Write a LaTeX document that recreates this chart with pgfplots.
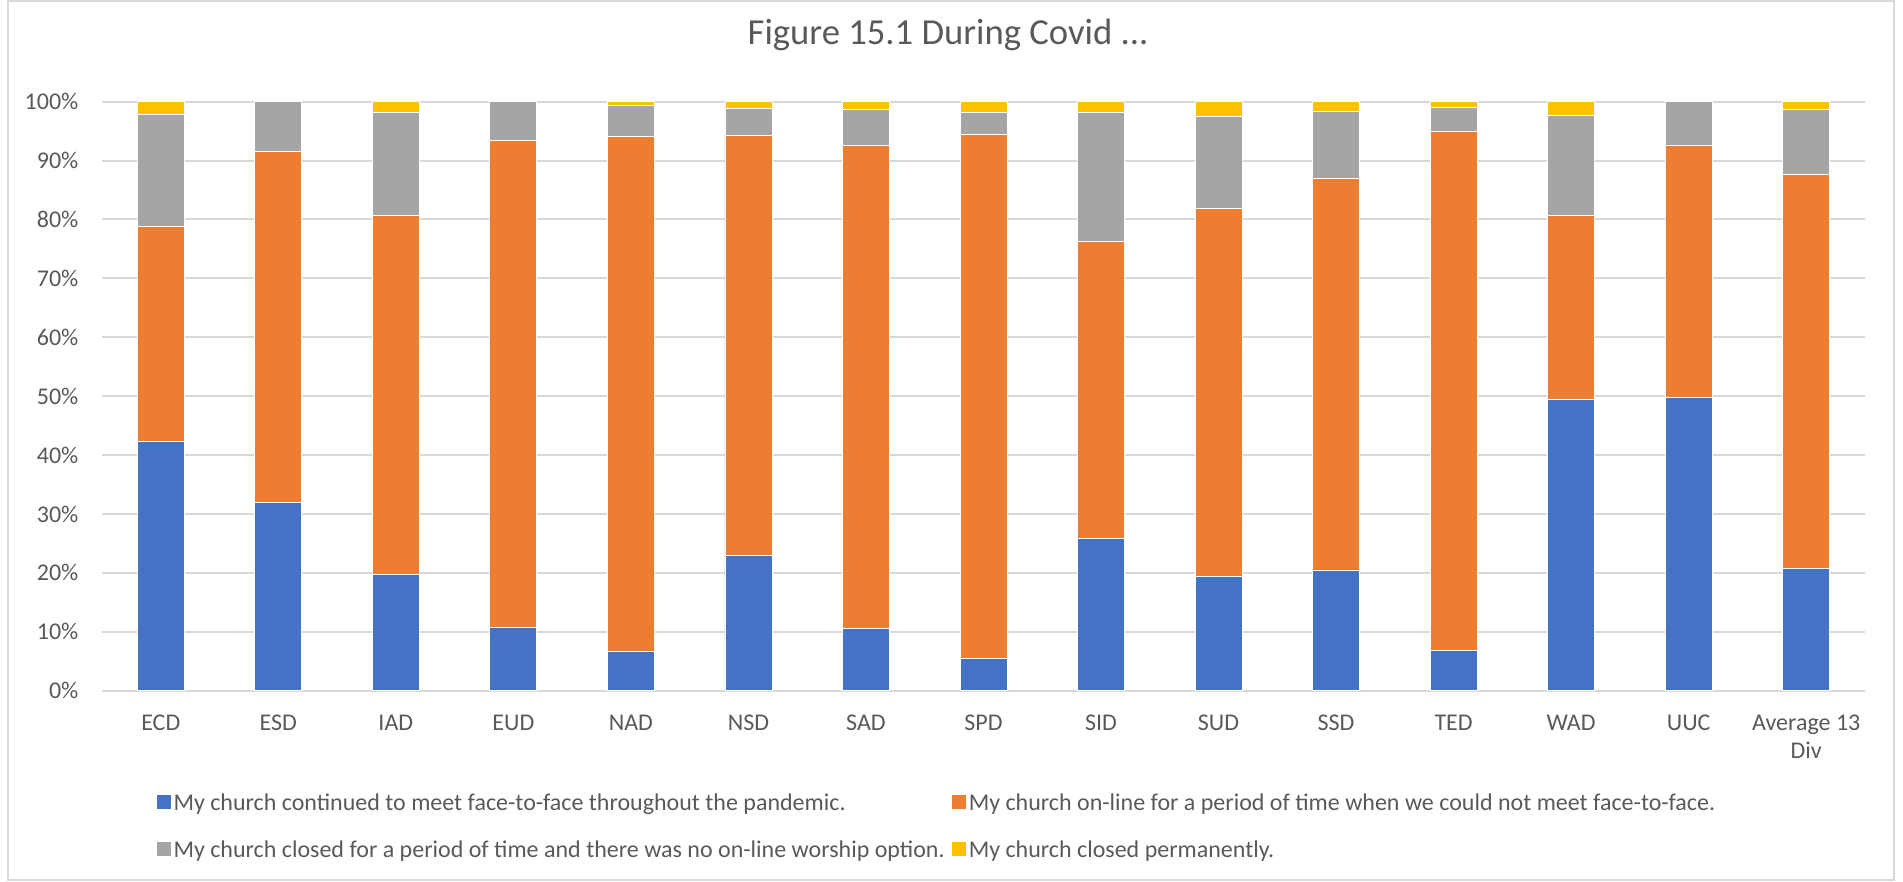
\documentclass[border=0pt]{standalone}
\usepackage{pgfplots}
\pgfplotsset{compat=1.18}
\usepackage{pgfplotstable}
\usepackage{fontspec}
\setmainfont{Carlito}
\definecolor{cBlue}{HTML}{4472C4}
\definecolor{cOrange}{HTML}{ED7D31}
\definecolor{cGray}{HTML}{A5A5A5}
\definecolor{cYellow}{HTML}{FFC000}
\definecolor{cText}{HTML}{595959}
\definecolor{cGrid}{HTML}{D9D9D9}
\newcommand\lblfont{\fontsize{7.2}{8.2}\selectfont}
\pgfplotstableread{
x blue orange gray yellow
0  42.3 36.5 19.1 2.1
1  32.0 59.5 8.5  0.0
2  19.7 61.0 17.5 1.8
3  10.7 82.7 6.6  0.0
4  6.6  87.5 5.2  0.7
5  22.9 71.3 4.6  1.2
6  10.6 81.9 6.1  1.4
7  5.4  89.1 3.7  1.8
8  25.8 50.4 21.9 1.9
9  19.4 62.4 15.7 2.5
10 20.5 66.5 11.4 1.6
11 6.9  88.1 4.0  1.0
12 49.4 31.3 17.0 2.3
13 49.8 42.7 7.5  0.0
14 20.8 66.9 10.9 1.4
}\data
\begin{document}
\begin{tikzpicture}
\path[use as bounding box] (-30.6pt,-57.4pt) rectangle (540.3pt,207.2pt);
\draw[cGrid, line width=0.6pt] (-28.2pt,-56.8pt) rectangle (537.6pt,206.9pt);
\begin{axis}[
  at={(0pt,0pt)}, anchor=south west,
  scale only axis, width=528.9pt, height=176.7pt,
  ybar stacked, bar width=14.1pt,
  xmin=-0.5, xmax=14.5, ymin=0, ymax=100,
  enlargelimits=false,
  axis line style={draw=none},
  major tick length=0pt,
  ymajorgrids, grid style={cGrid, line width=0.6pt},
  ytick={0,10,...,100},
  yticklabels={0\%,10\%,20\%,30\%,40\%,50\%,60\%,70\%,80\%,90\%,100\%},
  yticklabel style={font=\lblfont, text=cText, inner xsep=0pt, xshift=-6.9pt},
  xtick={0,...,14},
  xticklabels={ECD,ESD,IAD,EUD,NAD,NSD,SAD,SPD,SID,SUD,SSD,TED,WAD,UUC,{Average 13\\Div}},
  xticklabel style={font=\lblfont, text=cText, align=center, anchor=north, inner sep=0pt, yshift=-7.2pt},
  title={Figure 15.1 During Covid ...},
  title style={at={(axis description cs:0.4799,1.0792)}, anchor=center, font=\fontsize{11}{13}\selectfont, text=cText},
  legend columns=2,
  legend cell align=left,
  legend style={at={(axis description cs:0,0)}, anchor=north west, xshift=16.3pt, yshift=-31.0pt,
    draw=none, fill=none, inner sep=0pt, font=\lblfont, text=cText,
    nodes={inner xsep=0.75pt, inner ysep=0pt, text height=4.9pt, text depth=1.7pt},
    /tikz/every even column/.append style={column sep=1.5pt},
    /tikz/row sep=7.5pt},
  legend image code/.code={\fill[#1,draw=none] (0pt,-1.0pt) rectangle (4.2pt,3.2pt);},
  every axis plot/.append style={draw=white, line width=0.25pt},
]
\addplot[fill=cBlue] table[x=x,y=blue]{\data};
\addplot[fill=cOrange] table[x=x,y=orange]{\data};
\addplot[fill=cGray] table[x=x,y=gray]{\data};
\addplot[fill=cYellow] table[x=x,y=yellow]{\data};
\legend{My church continued to meet face-to-face throughout the pandemic.,
My church on-line for a period of time when we could not meet face-to-face.,
My church closed for a period of time and there was no on-line worship option.,
My church closed permanently.}
\end{axis}
\end{tikzpicture}
\end{document}
